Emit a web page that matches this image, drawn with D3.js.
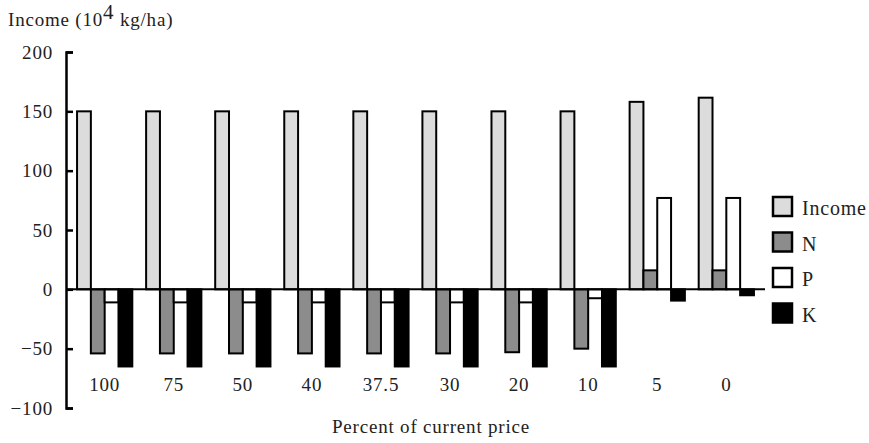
<!DOCTYPE html>
<html lang="en">
<head>
    <meta charset="UTF-8">
    <title>Income vs price</title>
    <script src="https://d3js.org/d3.v7.min.js"></script>
    <style>
        body { margin: 0; background: #fff; }
    </style>
</head>
<body>
    <div id="chart"></div>
    <script>
        const width = 869, height = 443;

        // Data
        const categories = ["100", "75", "50", "40", "37.5", "30", "20", "10", "5", "0"];
        const seriesNames = ["Income", "N", "P", "K"];
        const income = [150, 150, 150, 150, 150, 150, 150, 150, 158, 161.5];
        const nValues = [-54, -54, -54, -54, -54, -54, -53, -50, 16, 16];
        const pValues = [-11, -11, -11, -11, -11, -11, -11, -7.5, 77, 77];
        const kValues = [-65, -65, -65, -65, -65, -65, -65, -65, -9.5, -5];
        const yTicks = [-100, -50, 0, 50, 100, 150, 200];
        const fills = { Income: "#dcdcdc", N: "#8c8c8c", P: "#ffffff", K: "#000000" };

        const values = { Income: income, N: nValues, P: pValues, K: kValues };

        const svg = d3.select("#chart").append("svg")
            .attr("width", width).attr("height", height)
            .attr("font-family", "'Liberation Serif', 'DejaVu Serif', serif")
            .attr("letter-spacing", 0.8);

        const x = d3.scaleBand().domain(categories).range([66, 765])
            .paddingInner(0.2).paddingOuter(0.16);
        const xInner = d3.scaleBand().domain(seriesNames).range([0, x.bandwidth()]);
        const y = d3.scaleLinear().domain([-100, 200]).range([408, 52]);

        // bars
        const groups = svg.selectAll(".grp").data(categories).enter()
            .append("g").attr("transform", d => `translate(${x(d)},0)`);

        groups.selectAll("rect")
            .data((c, i) => seriesNames.map(s => ({ s, v: values[s][i] })))
            .enter().append("rect")
            .attr("x", d => xInner(d.s))
            .attr("y", d => y(Math.max(0, d.v)))
            .attr("width", xInner.bandwidth())
            .attr("height", d => Math.abs(y(d.v) - y(0)))
            .attr("fill", d => fills[d.s])
            .attr("stroke", "#000").attr("stroke-width", 2);

        // zero line
        svg.append("line")
            .attr("x1", 66).attr("x2", 765)
            .attr("y1", y(0)).attr("y2", y(0))
            .attr("stroke", "#000").attr("stroke-width", 2);

        // y axis
        const yAxis = d3.axisRight(y).tickValues(yTicks).tickSize(7).tickFormat("");
        const gy = svg.append("g").attr("transform", "translate(66,0)").call(yAxis);
        gy.select(".domain").attr("stroke-width", 2.5);
        gy.selectAll(".tick line").attr("stroke-width", 2.5);

        svg.selectAll(".ylab").data(yTicks).enter().append("text")
            .attr("x", 53).attr("y", d => y(d) + 6.5)
            .attr("text-anchor", "end").attr("font-size", 19).attr("fill", "#222")
            .text(d => d < 0 ? "\u2212" + Math.abs(d) : d);

        // category labels
        svg.selectAll(".xlab").data(categories).enter().append("text")
            .attr("x", d => x(d) + x.bandwidth() / 2).attr("y", 391)
            .attr("text-anchor", "middle").attr("font-size", 19).attr("fill", "#222")
            .text(d => d);

        // axis titles
        const title = svg.append("text").attr("x", 8).attr("y", 26)
            .attr("font-size", 19).attr("fill", "#222");
        title.append("tspan").text("Income (10");
        title.append("tspan").attr("dy", -7).attr("font-size", 21).text("4");
        title.append("tspan").attr("dy", 7).text(" kg/ha)");

        svg.append("text").attr("x", 431).attr("y", 433)
            .attr("text-anchor", "middle").attr("font-size", 19).attr("fill", "#222")
            .text("Percent of current price");

        // legend
        const legend = svg.selectAll(".leg").data(seriesNames).enter()
            .append("g").attr("transform", (d, i) => `translate(773,${197 + i * 35.5})`);
        legend.append("rect").attr("width", 19).attr("height", 19)
            .attr("fill", d => fills[d])
            .attr("stroke", "#000").attr("stroke-width", 2.5);
        legend.append("text").attr("x", 29).attr("y", 18).attr("font-size", 20)
            .attr("fill", "#222")
            .text(d => d);
    </script>
</body>
</html>
